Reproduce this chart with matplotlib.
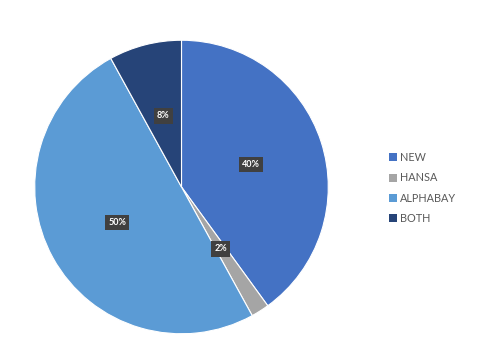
import matplotlib.pyplot as plt
from matplotlib.patches import Patch

plt.rcParams['font.family'] = ['Lato', 'DejaVu Sans']

# data
labels = ["NEW", "HANSA", "ALPHABAY", "BOTH"]
shares = [40, 2, 50, 8]
colors = ["#4472C4", "#A5A5A5", "#5B9BD5", "#264478"]

fig = plt.figure(figsize=(4.8, 3.63), dpi=100)
ax = fig.add_axes([34 / 480, 28 / 363, 295 / 480, 296 / 363])

wedges, texts, autotexts = ax.pie(
    shares, colors=colors, startangle=90, counterclock=False,
    autopct="%1.0f%%", pctdistance=0.5,
    wedgeprops=dict(edgecolor="white", linewidth=0.8),
)
for t in autotexts:
    t.set_color("white")
    t.set_fontsize(6.5)
    t.set_fontweight("bold")
    t.set_bbox(dict(boxstyle="square,pad=0.35", facecolor="#404040", edgecolor="none"))
ax.set_xlim(-1.005, 1.005)
ax.set_ylim(-1.005, 1.005)
ax.set_aspect("equal")

handles = [Patch(facecolor=c, edgecolor="none") for c in colors]
fig.legend(handles, labels, loc="center left", bbox_to_anchor=(379 / 480, 1 - 188 / 363),
           frameon=False, fontsize=7.8, labelcolor="#595959",
           handlelength=0.75, handleheight=0.75, handletextpad=0.3,
           labelspacing=0.85)

fig.savefig("out.png", dpi=100)
